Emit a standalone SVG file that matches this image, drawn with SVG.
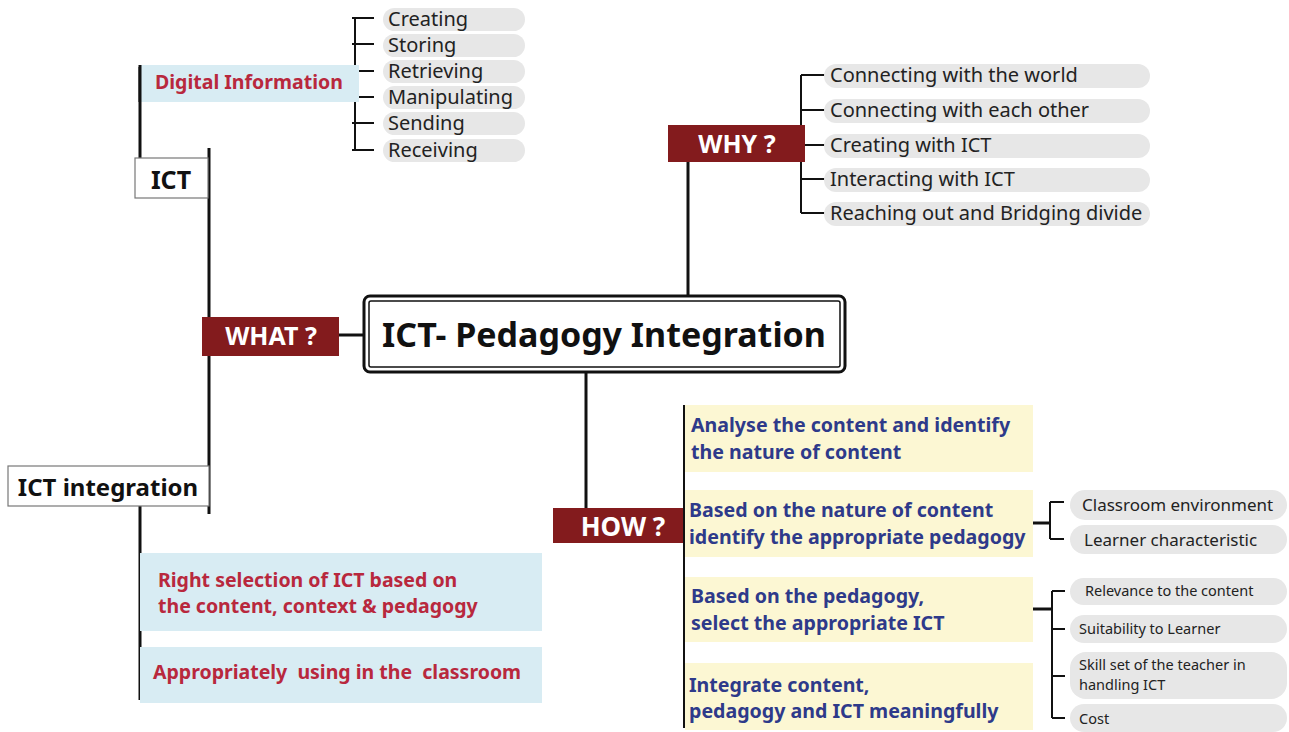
<svg xmlns="http://www.w3.org/2000/svg" width="1289" height="732" viewBox="0 0 1289 732">
<style>
text{font-family:"Noto Sans","Open Sans","DejaVu Sans",sans-serif}
.pill{fill:#e7e7e7}
.ptxt{font-size:20px;fill:#222}
.stxt{font-size:17px;fill:#222}
.xtxt{font-size:14.5px;fill:#222}
.red{fill:#831b1d}
.wtxt{font-size:25px;font-weight:bold;fill:#fff;text-anchor:middle}
.blue{fill:#d8ecf3}
.crim{font-size:19.5px;font-weight:bold;fill:#b8283d}
.yel{fill:#fcf7d3}
.navy{font-size:19.6px;font-weight:bold;fill:#2e3a8a}
.ln{stroke:#111;stroke-width:3;fill:none}
.br{stroke:#111;stroke-width:2;fill:none}
.wbox{fill:#fff;stroke:#777;stroke-width:1.2}
.btxt{font-weight:bold;fill:#111}
</style>
<rect width="1289" height="732" fill="#fff"/>

<g id="connectors">
<line class="ln" x1="140" y1="67" x2="140" y2="158"/>
<line class="ln" x1="209" y1="148" x2="209" y2="514"/>
<line class="ln" x1="339" y1="335" x2="364" y2="335"/>
<line class="ln" x1="688" y1="160" x2="688" y2="296"/>
<line class="ln" x1="586" y1="372" x2="586" y2="509"/>
<line class="ln" x1="140" y1="506" x2="140" y2="700"/>
<line class="ln" x1="684" y1="405" x2="684" y2="728" style="stroke-width:2"/>
<path class="br" d="M355 18 V150 M352 18 H374 M352 44 H374 M352 71 H374 M352 97 H374 M352 123 H374 M352 150 H374"/>
<path class="br" d="M801 75 V213 M801 75 H826 M801 110 H826 M801 145 H826 M801 179 H826 M801 213 H826"/>
<path class="br" d="M1033 523 H1050" style="stroke-width:3"/>
<path class="br" d="M1050 502 V539 M1050 502 H1064 M1050 539 H1064"/>
<path class="br" d="M1033 609 H1052" style="stroke-width:3"/>
<path class="br" d="M1052 591 V718 M1052 591 H1065 M1052 629 H1065 M1052 676 H1065 M1052 718 H1065"/>
</g>

<g id="center">
<rect x="364" y="296" width="481" height="76" rx="6" fill="#fff" stroke="#111" stroke-width="3"/>
<rect x="369" y="301" width="471" height="66" rx="2" fill="none" stroke="#111" stroke-width="1.5"/>
<text x="604" y="347" text-anchor="middle" class="btxt" style="font-size:34px">ICT- Pedagogy Integration</text>
</g>

<g id="digital-info">
<rect class="blue" x="140" y="65" width="219" height="37"/>
<line class="ln" x1="140" y1="65" x2="140" y2="102"/>
<text x="155" y="89" class="crim">Digital Information</text>
</g>

<g id="digital-list">
<rect class="pill" x="383" y="8" width="142" height="23" rx="11.5"/>
<text x="388" y="26" class="ptxt">Creating</text>
<rect class="pill" x="383" y="34" width="142" height="23" rx="11.5"/>
<text x="388" y="52" class="ptxt">Storing</text>
<rect class="pill" x="383" y="60" width="142" height="23" rx="11.5"/>
<text x="388" y="78" class="ptxt">Retrieving</text>
<rect class="pill" x="383" y="86" width="142" height="23" rx="11.5"/>
<text x="388" y="104" class="ptxt">Manipulating</text>
<rect class="pill" x="383" y="112" width="142" height="23" rx="11.5"/>
<text x="388" y="130" class="ptxt">Sending</text>
<rect class="pill" x="383" y="139" width="142" height="23" rx="11.5"/>
<text x="388" y="157" class="ptxt">Receiving</text>
</g>

<g id="ict">
<rect class="wbox" x="135" y="158" width="73" height="40"/>
<text x="171" y="189" text-anchor="middle" class="btxt" style="font-size:25px">ICT</text>
</g>

<g id="what">
<rect class="red" x="202" y="317" width="137" height="39"/>
<text x="271" y="345" class="wtxt">WHAT ?</text>
</g>

<g id="ict-integration">
<rect class="wbox" x="8" y="466" width="201" height="40"/>
<text x="108" y="496" text-anchor="middle" class="btxt" style="font-size:24px">ICT integration</text>
</g>

<g id="right-selection">
<rect class="blue" x="140" y="553" width="402" height="78"/>
<text x="158" y="587" class="crim">Right selection of ICT based on</text>
<text x="158" y="613" class="crim">the content, context &amp; pedagogy</text>
</g>

<g id="appropriately">
<rect class="blue" x="140" y="647" width="402" height="56"/>
<text x="153" y="679" class="crim" xml:space="preserve">Appropriately  using in the  classroom</text>
</g>

<g id="why">
<rect class="red" x="668" y="125" width="137" height="37"/>
<text x="737" y="153" class="wtxt">WHY ?</text>
</g>

<g id="why-list">
<rect class="pill" x="824" y="64" width="326" height="24" rx="12"/>
<text x="830" y="82" class="ptxt">Connecting with the world</text>
<rect class="pill" x="824" y="99" width="326" height="24" rx="12"/>
<text x="830" y="117" class="ptxt">Connecting with each other</text>
<rect class="pill" x="824" y="134" width="326" height="24" rx="12"/>
<text x="830" y="152" class="ptxt">Creating with ICT</text>
<rect class="pill" x="824" y="168" width="326" height="24" rx="12"/>
<text x="830" y="186" class="ptxt">Interacting with ICT</text>
<rect class="pill" x="824" y="202" width="326" height="24" rx="12"/>
<text x="830" y="220" class="ptxt">Reaching out and Bridging divide</text>
</g>

<g id="how">
<rect class="red" x="553" y="508" width="130" height="35"/>
<text x="623" y="536" class="wtxt" style="font-size:26px">HOW ?</text>
</g>

<g id="how-1">
<rect class="yel" x="685" y="405" width="348" height="67"/>
<text x="691" y="432" class="navy">Analyse the content and identify</text>
<text x="691" y="459" class="navy">the nature of content</text>
</g>
<g id="how-2">
<rect class="yel" x="685" y="490" width="348" height="67"/>
<text x="689" y="517" class="navy">Based on the nature of content</text>
<text x="689" y="544" class="navy">identify the appropriate pedagogy</text>
</g>
<g id="how-3">
<rect class="yel" x="685" y="577" width="348" height="65"/>
<text x="691" y="603" class="navy">Based on the pedagogy,</text>
<text x="691" y="630" class="navy">select the appropriate ICT</text>
</g>
<g id="how-4">
<rect class="yel" x="685" y="663" width="348" height="67"/>
<text x="689" y="692" class="navy">Integrate content,</text>
<text x="689" y="718" class="navy">pedagogy and ICT meaningfully</text>
</g>

<g id="pedagogy-factors">
<rect class="pill" x="1070" y="490" width="217" height="30" rx="15"/>
<text x="1082" y="511" class="stxt">Classroom environment</text>
<rect class="pill" x="1070" y="525" width="217" height="29" rx="14.5"/>
<text x="1084" y="546" class="stxt">Learner characteristic</text>
</g>

<g id="ict-factors">
<rect class="pill" x="1070" y="578" width="217" height="27" rx="13.5"/>
<text x="1085" y="596" class="xtxt">Relevance to the content</text>
<rect class="pill" x="1070" y="615" width="217" height="28" rx="14"/>
<text x="1079" y="634" class="xtxt">Suitability to Learner</text>
<rect class="pill" x="1070" y="652" width="217" height="47" rx="16"/>
<text x="1079" y="670" class="xtxt">Skill set of the teacher in</text>
<text x="1079" y="690" class="xtxt">handling ICT</text>
<rect class="pill" x="1070" y="704" width="217" height="28" rx="14"/>
<text x="1079" y="724" class="xtxt">Cost</text>
</g>
</svg>
